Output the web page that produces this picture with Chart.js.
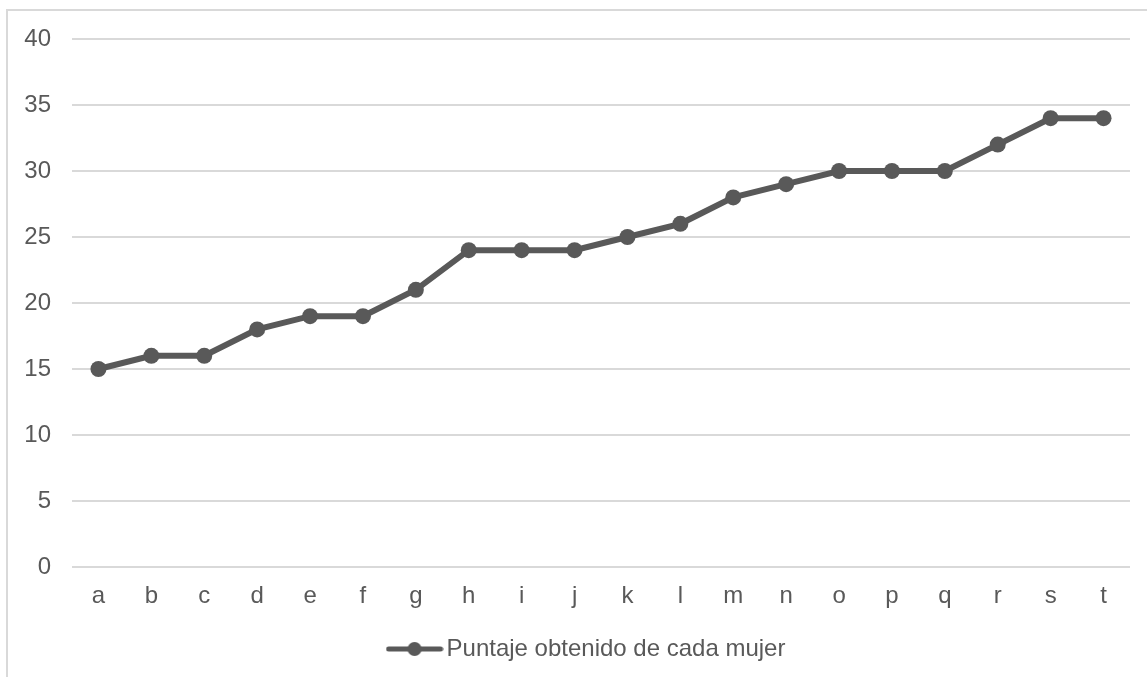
<!DOCTYPE html>
<html>
<head>
<meta charset="utf-8">
<script src="https://cdn.jsdelivr.net/npm/chart.js@4/dist/chart.umd.min.js"></script>
<style>
  html, body { margin: 0; padding: 0; background: #fff; overflow: hidden; }
  #frame { position: absolute; left: 6px; top: 9px; width: 1180px; height: 720px; border: 2px solid #d9d9d9; }
  #wrap { position: absolute; left: 0; top: 0; width: 1147px; height: 677px; }
</style>
</head>
<body>
<div id="frame"></div>
<div id="wrap"><canvas id="chart"></canvas></div>
<script>
const categories = ['a', 'b', 'c', 'd', 'e', 'f', 'g', 'h', 'i', 'j', 'k', 'l', 'm', 'n', 'o', 'p', 'q', 'r', 's', 't'];
const puntajes = [15, 16, 16, 18, 19, 19, 21, 24, 24, 24, 25, 26, 28, 29, 30, 30, 30, 32, 34, 34];
const seriesName = 'Puntaje obtenido de cada mujer';

const gray = '#595959';

// legend marker: line with a dot in the middle, like Excel
const marker = document.createElement('canvas');
marker.width = 58;
marker.height = 16;
const mctx = marker.getContext('2d');
mctx.strokeStyle = gray;
mctx.lineWidth = 5;
mctx.lineCap = 'round';
mctx.beginPath();
mctx.moveTo(3, 8);
mctx.lineTo(55, 8);
mctx.stroke();
mctx.fillStyle = gray;
mctx.beginPath();
mctx.arc(29, 8, 7, 0, Math.PI * 2);
mctx.fill();

// nudge the legend to the right, Excel centres it on the whole frame
const shiftLegend = {
    id: 'shiftLegend',
    afterLayout(chart) {
        chart.legend.left += 25;
        chart.legend.right += 25;
    }
};

Chart.defaults.font.family = '"Liberation Sans", Arial, sans-serif';
Chart.defaults.font.size = 24;
Chart.defaults.color = gray;

new Chart(document.getElementById('chart'), {
    type: 'line',
    data: {
        labels: categories,
        datasets: [{
            label: seriesName,
            data: puntajes,
            borderColor: gray,
            backgroundColor: gray,
            borderWidth: 6,
            pointRadius: 8,
            pointHoverRadius: 8,
            pointBackgroundColor: gray,
            pointBorderWidth: 0,
            tension: 0,
            fill: false
        }]
    },
    plugins: [shiftLegend],
    options: {
        responsive: true,
        maintainAspectRatio: false,
        animation: false,
        layout: { padding: { top: 39, right: 17, left: 0, bottom: 6 } },
        plugins: {
            tooltip: { enabled: false },
            legend: {
                position: 'bottom',
                labels: {
                    usePointStyle: true,
                    pointStyle: marker,
                    pointStyleWidth: 40,
                    color: gray
                }
            }
        },
        scales: {
            x: {
                offset: true,
                grid: { display: false },
                border: { display: false },
                ticks: { padding: 7, color: gray },
                afterFit: s => { s.height = 60; }
            },
            y: {
                min: 0,
                max: 40,
                ticks: { stepSize: 5, padding: 21, color: gray },
                grid: { color: '#d9d9d9', lineWidth: 2, drawTicks: false },
                border: { display: false },
                afterFit: s => { s.width = 72; }
            }
        }
    }
});
</script>
</body>
</html>
